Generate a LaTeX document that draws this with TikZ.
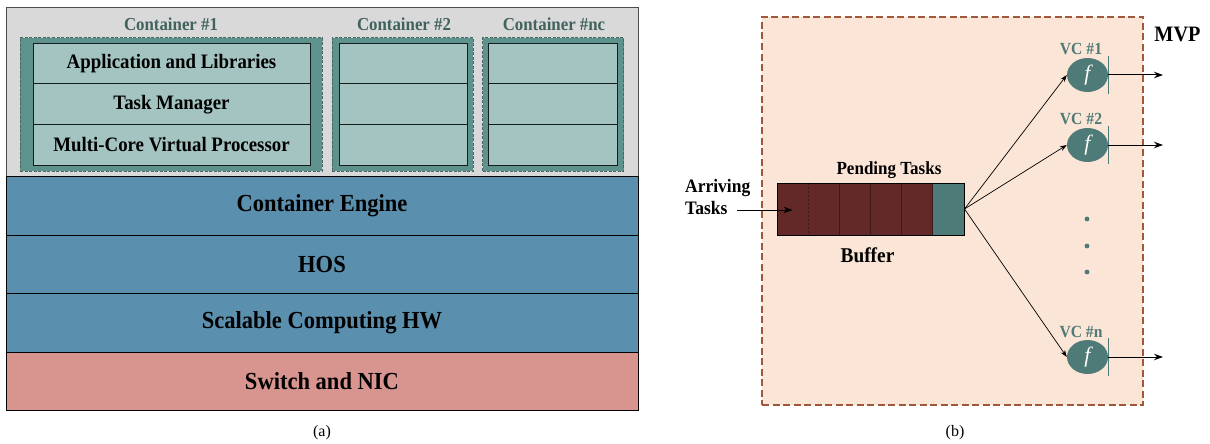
\documentclass[tikz,border=0pt]{standalone}
\usepackage{fontspec}
\usetikzlibrary{shapes.geometric,arrows.meta}
\newfontfamily\cf{Liberation Serif}[FakeStretch=0.92]
\newfontfamily\cfr{Liberation Serif}
\definecolor{grayreg}{HTML}{D9D9D9}
\definecolor{contout}{HTML}{5E928D}
\definecolor{contin}{HTML}{A3C4C1}
\definecolor{contlab}{HTML}{41625F}
\definecolor{contdash}{HTML}{4C6664}
\definecolor{layerblue}{HTML}{5B8FAE}
\definecolor{switchred}{HTML}{D8948F}
\definecolor{peach}{HTML}{FBE5D6}
\definecolor{dashbrown}{HTML}{A0573A}
\definecolor{maroon}{HTML}{632828}
\definecolor{tealc}{HTML}{4E7B77}
\definecolor{divline}{HTML}{3A1A1A}
\tikzset{
  layer/.style={draw=black, line width=1pt, minimum width=632, minimum height=58.5, inner sep=0,
    font=\cf\bfseries\fontsize{24.5}{28}\selectfont, text=black},
  contbox/.style={draw=contdash, dash pattern=on 3pt off 1.5pt, line width=1pt, fill=contout, minimum height=133, inner sep=0},
  row/.style={draw=black!70!contlab, line width=0.8pt, fill=contin, minimum height=40.7, inner sep=0,
    font=\cf\bfseries\fontsize{20.5}{24}\selectfont},
  contlabel/.style={font=\cf\bfseries\fontsize{18.3}{22}\selectfont, text=contlab, inner sep=0},
  cell/.style={draw=divline, line width=0.8pt, fill=maroon, minimum width=31.17, minimum height=52, inner sep=0},
  vcnode/.style={ellipse, fill=tealc, minimum width=41, minimum height=34, inner sep=0,
    font=\cfr\itshape\fontsize{22}{24}\selectfont, text=white},
  vclabel/.style={font=\cf\bfseries\fontsize{17}{20}\selectfont, text=tealc, inner sep=0},
  blabel/.style={font=\cf\bfseries\fontsize{18.5}{22}\selectfont, text=black, inner sep=0},
  thinarrow/.style={line width=0.7pt, -{Stealth[length=7,width=5]}},
  bigarrow/.style={line width=1pt, -{Stealth[length=9,width=6.5]}},
  caption/.style={font=\cfr\fontsize{16}{18}\selectfont, inner sep=0}
}
\begin{document}
\begin{tikzpicture}[x=1pt,y=-1pt]
\useasboundingbox (0,0) rectangle (1210,444);
% ---------- panel (a)
\node[draw=black!70, line width=0.8pt, fill=grayreg, minimum width=632, minimum height=170, inner sep=0] (greg) at (322,92) {};
\node[contlabel] (l1) at (171,24) {Container \#1};
\node[contlabel] (l2) at (404,24) {Container \#2};
\node[contlabel] (l3) at (554,24) {Container \#nc};
\node[contbox, minimum width=302] (c1) at (171,104.5) {};
\node[contbox, minimum width=141] (c2) at (402.5,104.5) {};
\node[contbox, minimum width=141] (c3) at (553,104.5) {};
\node[row, minimum width=277] (r11) at (171.5,63.5) {Application and Libraries};
\node[row, minimum width=277] (r12) at (171.5,104.2) {Task Manager};
\node[row, minimum width=277] (r13) at (171.5,144.9) {Multi-Core Virtual Processor};
\node[row, minimum width=128] (r21) at (403,63.5) {};
\node[row, minimum width=128] (r22) at (403,104.2) {};
\node[row, minimum width=128] (r23) at (403,144.9) {};
\node[row, minimum width=129] (r31) at (553,63.5) {};
\node[row, minimum width=129] (r32) at (553,104.2) {};
\node[row, minimum width=129] (r33) at (553,144.9) {};
\node[layer, fill=layerblue] (ce) at (322,206) {Container Engine};
\node[layer, fill=layerblue] (hos) at (322,264.5) {HOS};
\node[layer, fill=layerblue] (sc) at (322,323) {Scalable Computing HW};
\node[layer, fill=switchred] (sw) at (322,381.5) {Switch and NIC};
\node[caption] (capa) at (322,433) {(a)};
% ---------- panel (b)
\node[draw=dashbrown, dash pattern=on 7pt off 3.5pt, line width=1.2pt, fill=peach, minimum width=381, minimum height=388, inner sep=0] (mvpbox) at (952.5,211) {};
\node[font=\cf\bfseries\fontsize{22}{24}\selectfont, inner sep=0] (mvp) at (1177.5,34) {MVP};
\node[cell] (b1) at (792.6,209) {};
\node[cell] (b2) at (823.8,209) {};
\node[cell] (b3) at (854.9,209) {};
\node[cell] (b4) at (886.1,209) {};
\node[cell] (b5) at (917.3,209) {};
\node[cell, fill=tealc] (b6) at (948.4,209) {};
\draw[maroon, line width=0.9pt] (b1.north east) -- (b1.south east);
\draw[divline, line width=0.9pt, dash pattern=on 2pt off 2pt] (b1.north east) -- (b1.south east);
\node[draw=black, line width=1pt, minimum width=187, minimum height=52, inner sep=0] (buf) at (870.5,209) {};
\node[blabel] (pend) at (889,170) {Pending Tasks};
\node[font=\cf\bfseries\fontsize{21}{24}\selectfont, inner sep=0] (buflab) at (867.5,255) {Buffer};
\node[blabel, align=left, anchor=west, font=\cf\bfseries\fontsize{19}{22}\selectfont] (arr) at (685,197) {Arriving\\Tasks};
\coordinate (arrin) at (737,210);
\draw[bigarrow] (arrin) -- (arrin -| b1.center);
\node[vcnode] (v1) at (1087.5,75) {f};
\node[vcnode] (v2) at (1087.5,145) {f};
\node[vcnode] (vn) at (1087.5,357) {f};
\node[vclabel] (vl1) at (1081,49) {VC \#1};
\node[vclabel] (vl2) at (1081,119) {VC \#2};
\node[vclabel] (vln) at (1081,332) {VC \#n};
\foreach \v in {v1,v2,vn}{
  \draw[tealc, line width=1pt] ([yshift=-19pt]\v.east) -- ([yshift=19pt]\v.east);
}
\draw[thinarrow] (buf.east) -- (v1.west);
\draw[thinarrow] (buf.east) -- (v2.west);
\draw[thinarrow] (buf.east) -- (vn.west);
\coordinate (o1) at (1163,75);
\coordinate (o2) at (1163,145);
\coordinate (on) at (1163,357);
\draw[bigarrow] (v1.east) -- (o1);
\draw[bigarrow] (v2.east) -- (o2);
\draw[bigarrow] (vn.east) -- (on);
\fill[tealc] (1087,219) circle (2.4);
\fill[tealc] (1087,246) circle (2.4);
\fill[tealc] (1087,272) circle (2.4);
\node[caption] (capb) at (955,433) {(b)};
\end{tikzpicture}
\end{document}
